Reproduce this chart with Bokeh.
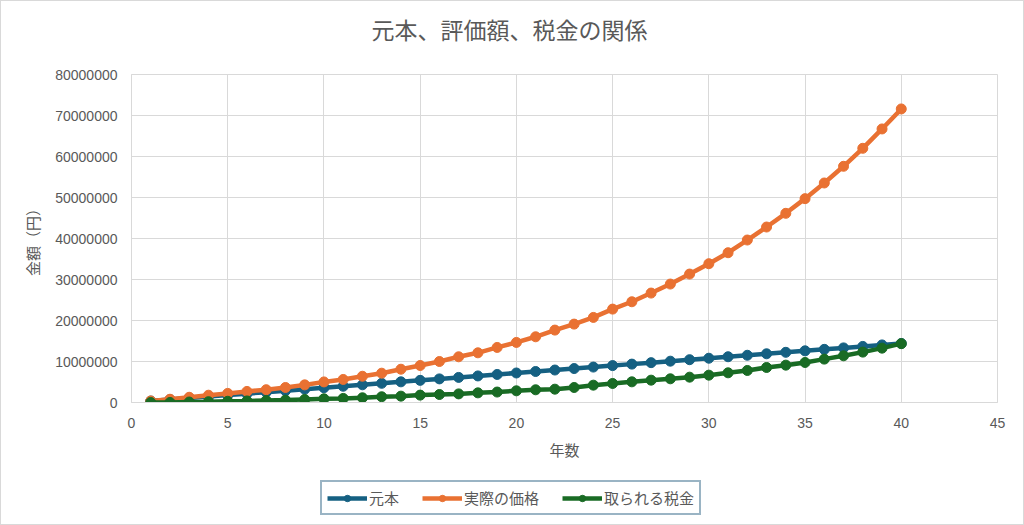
from bokeh.plotting import figure
from bokeh.models import (Range1d, FixedTicker, BasicTickFormatter, Legend, LegendItem, Title)
from bokeh.layouts import column
from bokeh.embed import file_html
from bokeh.resources import INLINE

# ---- data ----
years = list(range(1, 41))
principal = [360000, 720000, 1080000, 1440000, 1800000, 2160000, 2520000, 2880000,
             3240000, 3600000, 3960000, 4320000, 4680000, 5040000, 5400000, 5760000,
             6120000, 6480000, 6840000, 7200000, 7560000, 7920000, 8280000, 8640000,
             9000000, 9360000, 9720000, 10080000, 10440000, 10800000, 11160000, 11520000,
             11880000, 12240000, 12600000, 12960000, 13320000, 13680000, 14040000, 14400000]
actual_value = [370000, 800000, 1280000, 1780000, 2220000, 2700000, 3120000, 3660000,
                4300000, 5020000, 5620000, 6400000, 7150000, 8120000, 9020000, 10000000,
                11150000, 12120000, 13430000, 14650000, 16030000, 17660000, 19120000, 20750000,
                22780000, 24570000, 26690000, 28890000, 31330000, 33850000, 36530000, 39630000,
                42800000, 46140000, 49720000, 53540000, 57610000, 62000000, 66720000, 71600000]
tax = [0, 20000, 120000, 200000, 300000, 380000, 480000, 580000,
       750000, 900000, 1000000, 1150000, 1400000, 1550000, 1800000, 1950000,
       2100000, 2350000, 2550000, 2850000, 3100000, 3250000, 3660000, 4230000,
       4640000, 5040000, 5450000, 5780000, 6180000, 6670000, 7240000, 7810000,
       8540000, 9110000, 9760000, 10580000, 11390000, 12290000, 13260000, 14350000]

series_names = ["元本", "実際の価格", "取られる税金"]
series_colors = ["#156082", "#E97132", "#196B24"]
x_ticks = [0, 5, 10, 15, 20, 25, 30, 35, 40, 45]
y_ticks = [0, 10000000, 20000000, 30000000, 40000000, 50000000, 60000000, 70000000, 80000000]

title_text = "元本、評価額、税金の関係"
x_label = "年数"
y_label = "金額（円）"

JP = "Noto Sans CJK JP"
NUM = "Liberation Sans"
GRAY = "#595959"
GRID = "#d9d9d9"
W = 1022
H_MAIN = 477
H_LEG = 46

p = figure(width=W, height=H_MAIN, output_backend="svg", toolbar_location=None,
           x_range=Range1d(0, 45), y_range=Range1d(0, 80000000),
           min_border_left=130, min_border_right=26, min_border_top=73,
           min_border_bottom=H_MAIN - 401,
           background_fill_color="white", border_fill_color="white")

p.title.text = title_text
p.title.text_font = JP
p.title.text_font_size = "23px"
p.title.text_font_style = "normal"
p.title.text_color = GRAY
p.title.align = "left"
p.title.offset = 240
p.title.standoff = 10
# blank spacer slot between the plot area and the title
p.add_layout(Title(text=" ", text_font=JP, text_font_size="10px", standoff=7), "above")

p.outline_line_color = GRID
for g in (p.xgrid, p.ygrid):
    g.grid_line_color = GRID
    g.grid_line_width = 1
p.xaxis.ticker = FixedTicker(ticks=x_ticks)
p.yaxis.ticker = FixedTicker(ticks=y_ticks)
p.yaxis.formatter = BasicTickFormatter(use_scientific=False)
p.xgrid.ticker = FixedTicker(ticks=x_ticks)
p.ygrid.ticker = FixedTicker(ticks=y_ticks)

for ax in (p.xaxis, p.yaxis):
    ax.axis_line_color = GRID
    ax.major_tick_line_color = None
    ax.minor_tick_line_color = None
    ax.major_tick_in = 0
    ax.major_tick_out = 0
    ax.major_label_text_font = NUM
    ax.major_label_text_font_size = "14px"
    ax.major_label_text_color = GRAY
    ax.axis_label_text_font = JP
    ax.axis_label_text_font_size = "15px"
    ax.axis_label_text_font_style = "normal"
    ax.axis_label_text_color = GRAY

p.xaxis.axis_label = x_label
p.yaxis.axis_label = y_label
p.xaxis.major_label_standoff = 15
p.yaxis.major_label_standoff = 14
p.xaxis.axis_label_standoff = 8
p.yaxis.axis_label_standoff = 9

# legend strip: same series, drawn on a strip whose view range holds no data,
# so only the legend is visible there
q = figure(width=W, height=H_LEG, output_backend="svg", toolbar_location=None,
           x_range=Range1d(1000, 1001), y_range=Range1d(1000, 1001),
           x_axis_type=None, y_axis_type=None,
           min_border_left=0, min_border_right=0, min_border_top=0, min_border_bottom=0,
           background_fill_color="white", border_fill_color="white")
q.outline_line_color = None
q.xgrid.visible = False
q.ygrid.visible = False

for fig in (p, q):
    for name, vals, col in zip(series_names, [principal, actual_value, tax], series_colors):
        fig.line(years, vals, line_color=col, line_width=4.5, name=name + "_line")
        fig.scatter(years, vals, marker="circle", size=10, fill_color=col, line_color=col,
                    name=name + "_pts")

items = []
for i, name in enumerate(series_names):
    rl = q.renderers[2 * i]
    rp = q.renderers[2 * i + 1]
    items.append(LegendItem(label=name, renderers=[rl, rp]))

legend = Legend(items=items, orientation="horizontal", location=(189, 9),
                label_text_font=JP, label_text_font_size="15px", label_text_color=GRAY,
                border_line_color="#35698a", border_line_width=2,
                background_fill_color="white", background_fill_alpha=1,
                glyph_width=40, glyph_height=16, label_standoff=2, spacing=23,
                padding=5, margin=0, label_height=16)
q.add_layout(legend, "center")

layout = column(p, q, spacing=0, styles={"border": "1px solid #d9d9d9"})
open("out.html", "w").write(file_html(layout, INLINE))
